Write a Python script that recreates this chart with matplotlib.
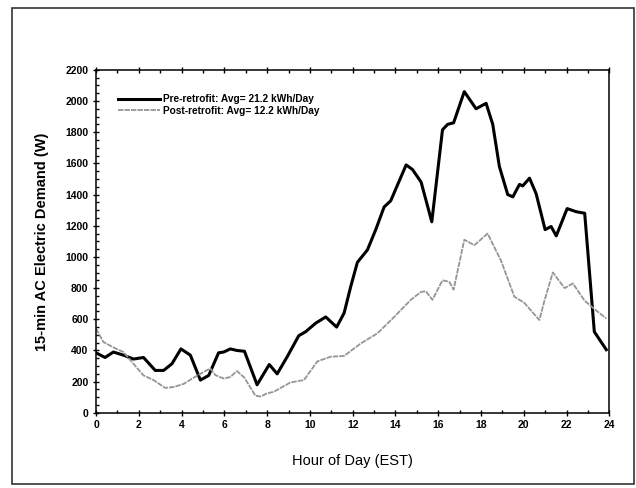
import matplotlib.pyplot as plt
from matplotlib.patches import Rectangle
from matplotlib.ticker import MultipleLocator

plt.rcParams['font.family'] = ['Liberation Sans', 'DejaVu Sans']

# pre-retrofit (hour, W)
pre_hours = [0, 0.42, 0.81, 1.28, 1.75, 2.22, 2.77, 3.16, 3.55, 3.97, 4.41, 4.88,
             5.27, 5.73, 5.97, 6.28, 6.59, 6.94, 7.53, 8.1, 8.47, 8.94, 9.48, 9.8,
             10.27, 10.74, 11.25, 11.6, 11.91, 12.22, 12.69, 13.08, 13.47, 13.78,
             14.5, 14.8, 15.2, 15.7, 16.2, 16.44, 16.72, 17.22, 17.77, 18.24, 18.55,
             18.86, 19.25, 19.49, 19.8, 19.95, 20.27, 20.58, 21.0, 21.28, 21.52,
             22.03, 22.45, 22.85, 23.3, 23.86]
pre_w = [385, 355, 390, 370, 345, 355, 272, 272, 315, 410, 370, 210,
         240, 385, 390, 410, 400, 395, 180, 310, 250, 360, 495, 520,
         575, 615, 550, 640, 810, 965, 1045, 1175, 1320, 1360,
         1590, 1560, 1480, 1225, 1815, 1850, 1860, 2060, 1950, 1985, 1850,
         1580, 1400, 1385, 1465, 1455, 1505, 1405, 1175, 1195, 1135,
         1310, 1290, 1280, 520, 405]

# post-retrofit
post_hours = [0, 0.34, 0.81, 1.28, 1.75, 2.22, 2.69, 3.23, 3.6, 4.09, 4.56, 5.03,
              5.34, 5.58, 5.97, 6.28, 6.59, 6.94, 7.45, 7.7, 8.0, 8.31, 9.09, 9.72,
              10.35, 10.97, 11.6, 12.38, 13.16, 13.94, 14.72, 15.19, 15.42, 15.73,
              16.2, 16.52, 16.72, 17.22, 17.69, 18.31, 18.94, 19.56, 20.03, 20.73,
              20.97, 21.36, 21.91, 22.3, 22.84, 23.31, 23.86]
post_w = [540, 455, 420, 390, 315, 240, 210, 160, 165, 185, 225, 262,
          285, 242, 220, 230, 268, 225, 110, 105, 125, 135, 195, 210,
          330, 360, 365, 445, 510, 615, 725, 775, 780, 725,
          850, 840, 790, 1110, 1075, 1150, 975, 745, 705, 595,
          720, 900, 800, 830, 720, 665, 605]

fig = plt.figure(figsize=(6.36, 4.88), dpi=100)
ax = fig.add_axes([0.151, 0.154, 0.807, 0.703])

ax.plot(pre_hours, pre_w, color='black', lw=2.2,
        label='Pre-retrofit: Avg= 21.2 kWh/Day')
ax.plot(post_hours, post_w, color='#959595', lw=1.3, ls=(0, (3, 0.6)),
        label='Post-retrofit: Avg= 12.2 kWh/Day')

ax.set_xlim(0, 24)
ax.set_ylim(0, 2200)
ax.xaxis.set_major_locator(MultipleLocator(2))
ax.xaxis.set_minor_locator(MultipleLocator(1))
ax.yaxis.set_major_locator(MultipleLocator(200))
ax.yaxis.set_minor_locator(MultipleLocator(50))
ax.tick_params(which='major', direction='inout', length=4, width=1,
               labelsize=7.5, top=True)
ax.tick_params(which='minor', direction='in', length=2, width=1, top=True)
for lbl in ax.get_xticklabels() + ax.get_yticklabels():
    lbl.set_fontweight('bold')
for s in ax.spines.values():
    s.set_linewidth(1.1)

ax.set_xlabel('Hour of Day (EST)', fontsize=10.5, labelpad=17)
ax.set_ylabel('15-min AC Electric Demand (W)', fontsize=10.5,
              fontweight='bold', labelpad=12)

leg = ax.legend(loc='upper left', frameon=False, fontsize=7.3,
                handlelength=4.1, handletextpad=0.3, labelspacing=0.15,
                borderaxespad=0, bbox_to_anchor=(0.035, 0.94))
for t in leg.get_texts():
    t.set_fontweight('bold')

# frame around the whole figure
fig.patches.append(Rectangle((0.019, 0.008), 0.978, 0.976,
                             transform=fig.transFigure, fill=False,
                             edgecolor='#333333', lw=1.2))

fig.savefig('out.png', dpi=100)
